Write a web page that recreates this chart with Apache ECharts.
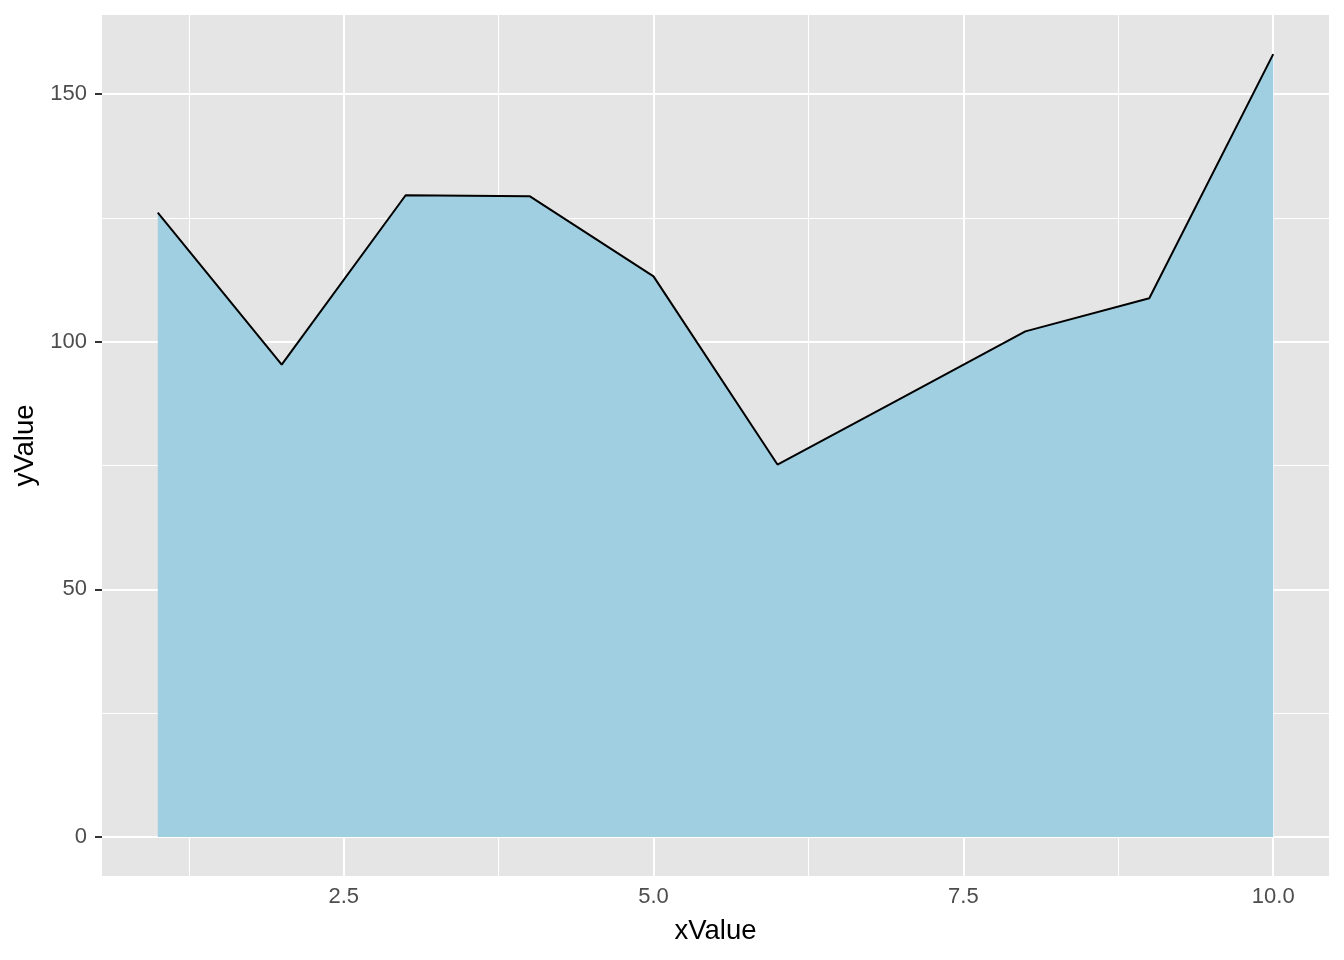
<!DOCTYPE html>
<html>
<head>
<meta charset="utf-8">
<script src="https://cdn.jsdelivr.net/npm/echarts@6/dist/echarts.min.js"></script>
<style>
html,body{margin:0;padding:0;background:#fff;}
#chart{width:1344px;height:960px;}
</style>
</head>
<body>
<div id="chart"></div>
<script>
const xValues = [1, 2, 3, 4, 5, 6, 7, 8, 9, 10];
const yValues = [126.1, 95.4, 129.6, 129.4, 113.2, 75.2, 88.6, 102.1, 108.8, 158.1];
const xTicks = [2.5, 5.0, 7.5, 10.0];
const yTicks = [0, 50, 100, 150];
const xMinor = [1.25, 3.75, 6.25, 8.75];
const yMinor = [25, 75, 125];

const font = "'Liberation Sans', Arial, Helvetica, sans-serif";
const pairs = xValues.map((x, i) => [x, yValues[i]]);

const gridLines = [];
xMinor.forEach(v => gridLines.push({xAxis: v, lineStyle: {color: '#fff', width: 1, type: 'solid'}}));
yMinor.forEach(v => gridLines.push({yAxis: v, lineStyle: {color: '#fff', width: 1, type: 'solid'}}));
xTicks.forEach(v => gridLines.push({xAxis: v, lineStyle: {color: '#fff', width: 2, type: 'solid'}}));
yTicks.forEach(v => gridLines.push({yAxis: v, lineStyle: {color: '#fff', width: 2, type: 'solid'}}));

const chart = echarts.init(document.getElementById('chart'), null, {renderer: 'canvas'});
chart.setOption({
  animation: false,
  backgroundColor: '#ffffff',
  textStyle: {fontFamily: font},
  grid: {left: 102, right: 15, top: 15, bottom: 84, show: true, backgroundColor: '#E5E5E5', borderWidth: 0},
  xAxis: {
    type: 'value', min: 0.55, max: 10.45,
    name: 'xValue', nameLocation: 'middle', nameGap: 41,
    nameTextStyle: {color: '#000', fontSize: 27.5, fontFamily: font},
    axisLine: {show: false},
    axisTick: {show: true, customValues: xTicks, length: 7, lineStyle: {color: '#333333', width: 2}},
    axisLabel: {customValues: xTicks, formatter: v => v.toFixed(1), color: '#4D4D4D', fontSize: 22, margin: 10, fontFamily: font},
    splitLine: {show: false}
  },
  yAxis: {
    type: 'value', min: -7.9, max: 166,
    name: 'yValue', nameLocation: 'middle', nameGap: 60.5, nameRotate: 90,
    nameTextStyle: {color: '#000', fontSize: 27.5, fontFamily: font},
    axisLine: {show: false},
    axisTick: {show: true, customValues: yTicks, length: 7, lineStyle: {color: '#333333', width: 2}},
    axisLabel: {customValues: yTicks, formatter: v => String(Math.round(v)), color: '#4D4D4D', fontSize: 22, margin: 15, fontFamily: font},
    splitLine: {show: false}
  },
  series: [
    {
      type: 'line', data: [], z: 1, silent: true,
      markLine: {silent: true, symbol: ['none', 'none'], label: {show: false}, z: 1, animation: false, data: gridLines}
    },
    {
      type: 'line', data: pairs, z: 3, symbol: 'none', showSymbol: false,
      lineStyle: {color: '#000000', width: 2},
      areaStyle: {color: '#9FCFE0', opacity: 1, origin: 0}
    }
  ]
});
</script>
</body>
</html>
